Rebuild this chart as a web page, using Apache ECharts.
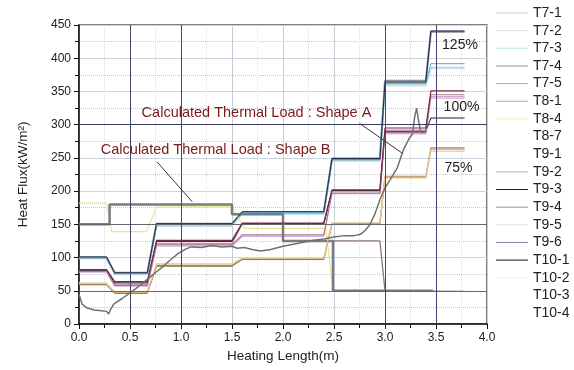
<!DOCTYPE html>
<html>
<head>
<meta charset="utf-8">
<script src="https://cdn.jsdelivr.net/npm/echarts/dist/echarts.min.js"></script>
<style>html,body{margin:0;padding:0;background:#fff}#c{width:574px;height:370px}</style>
</head>
<body>
<div id="c"></div>
<script>
// ---- data ----
const legendNames = ['T7-1','T7-2','T7-3','T7-4','T7-5','T8-1','T8-4','T8-7','T9-1','T9-2','T9-3','T9-4','T9-5','T9-6','T10-1','T10-2','T10-3','T10-4'];
const xTicks = [0, 0.5, 1.0, 1.5, 2.0, 2.5, 3.0, 3.5, 4.0];
const yTicks = [0, 50, 100, 150, 200, 250, 300, 350, 400, 450];

// shared breakpoints of the stepped thermocouple traces
const stepX = [0, 0.27, 0.35, 0.67, 0.76, 1.5, 1.6, 2.4, 2.48, 2.95, 3.0, 3.4, 3.45, 3.78];
// levels per heating segment (7 segments)
const t7_1 = [59, 46, 87, 97, 151, 221, 263];
const t7_2 = [98, 74, 147, 165, 245, 358, 384];
const t7_3 = [99, 75, 148, 166, 246, 360, 386];
const t7_4 = [100, 77, 151, 168, 248, 366, 440];
const t7_5 = [100, 76, 150, 168, 250, 362, 392];
const t8_1 = [80, 60, 121, 150, 200, 292, 342];
const t9_1 = [60, 47, 88, 98, 151, 222, 265];
const t9_2 = [78, 57, 117, 132, 196, 286, 340];
const t9_3 = [81, 62, 124, 151, 201, 290, 310];
const t9_4 = [79, 58, 119, 134, 197, 288, 345];
const t9_5 = [62, 49, 91, 100, 153, 223, 262];
const t10_1 = [101, 77, 151, 169, 249, 364, 441];
const t10_2 = [61, 48, 90, 99, 152, 220, 260];
const t10_3 = [82, 64, 126, 152, 202, 295, 351];

// free-form traces
const t8_4x = [0, 0.27, 0.32, 0.66, 0.76, 1.5, 1.62, 2.42, 2.49, 3.4];
const t8_4y = [182, 182, 139, 139, 176, 177, 144, 144, 51, 50];
const t8_7x = [2.0, 2.95, 3.0, 3.78];
const t8_7y = [125, 125, 50, 49];
const shapeBx = [0, 0.3, 0.3, 1.5, 1.5, 2.0, 2.0, 2.49, 2.49, 3.47];
const shapeBy = [150, 150, 180, 180, 165, 165, 125, 125, 50, 50];
const shapeAx = [0, 0.03, 0.08, 0.15, 0.22, 0.27, 0.29, 0.31, 0.34, 0.42, 0.5, 0.58, 0.66, 0.74, 0.82, 0.9, 0.97, 1.05, 1.1, 1.2, 1.3, 1.4, 1.5, 1.55, 1.62, 1.7, 1.78, 1.88, 2.0, 2.1, 2.2, 2.3, 2.4, 2.5, 2.6, 2.7, 2.76, 2.8, 2.85, 2.9, 2.95, 3.0, 3.05, 3.12, 3.18, 3.24, 3.27, 3.29, 3.31, 3.33, 3.35, 3.37];
const shapeAy = [45, 30, 24, 21, 20, 19, 15, 22, 30, 38, 47, 56, 66, 76, 86, 97, 106, 113, 116, 115, 118, 116, 117, 114, 115, 112, 110, 112, 117, 120, 123, 126, 128, 131, 133, 133, 135, 140, 149, 165, 187, 205, 217, 235, 262, 280, 286, 311, 325, 305, 290, 287];

// reference lines
const refH = [50, 150, 300];
const refV = [0.5, 1.0, 3.0, 3.5];

// annotations
const annoText = ['Calculated Thermal Load : Shape A', 'Calculated Thermal Load : Shape B', '125%', '100%', '75%'];
const annoPos = [[1.74, 317.6], [1.34, 262], [3.735, 420], [3.75, 327], [3.72, 235]];
const arrowA = [[2.75, 302], [3.17, 257]];
const arrowB = [[0.765, 244], [1.11, 184]];

// ---- helpers ----
function steps(levels) {
  const out = [];
  for (let i = 0; i < levels.length; i++) {
    out.push([stepX[2 * i], levels[i]]);
    out.push([stepX[2 * i + 1], levels[i]]);
  }
  return out;
}
function zip(xs, ys) { return xs.map((x, i) => [x, ys[i]]); }

const F = 'Arial, "Liberation Sans", sans-serif';

// name, data, plot color, width, legend color
const defs = [
  ['T7-1', steps(t7_1), '#6c6c6c', 1, '#c6c8d2'],
  ['T7-2', steps(t7_2), '#d4e2dc', 1, '#d6e2dc'],
  ['T7-3', steps(t7_3), '#aad8e4', 1.5, '#bfe2e6'],
  ['T7-4', steps(t7_4), '#8a8a94', 2, '#8f8f99'],
  ['T7-5', steps(t7_5), '#6cbcd6', 1.2, '#7cc4d4'],
  ['T8-1', steps(t8_1), '#cc88c0', 1.2, '#c09ab4'],
  ['T8-4', zip(t8_4x, t8_4y), '#e6e68e', 1.2, '#eeeea8'],
  ['T8-7', zip(t8_7x, t8_7y), '#8a7484', 1.3, '#ffffff'],
  ['T9-1', steps(t9_1), '#b4844e', 1.3, '#ffffff'],
  ['T9-2', steps(t9_2), '#d4b2dc', 1.2, '#c4a8c8'],
  ['T9-3', steps(t9_3), '#222222', 1, '#1e1e1e'],
  ['T9-4', steps(t9_4), '#a87890', 1.2, '#b08494'],
  ['T9-5', steps(t9_5), '#e2eae0', 1, '#dde6de'],
  ['T9-6', zip(shapeBx, shapeBy), '#7a7a84', 2.5, '#7f869c'],
  ['T10-1', steps(t10_1), '#1a2a48', 1, '#111111'],
  ['T10-2', steps(t10_2), '#e6c688', 1.2, '#f0f0c0'],
  ['T10-3', steps(t10_3), '#7a2848', 1.2, '#ffffff'],
  ['T10-4', zip(shapeAx, shapeAy), '#707070', 1.5, '#ffffff']
];

const series = defs.map(d => ({
  name: d[0], type: 'line', data: d[1], symbol: 'none', showSymbol: false,
  lineStyle: { color: d[2], width: d[3] }, itemStyle: { color: d[2] },
  animation: false, silent: true, z: 3
}));

// reference lines + annotations
series.push({
  name: 'ref', type: 'line', data: [], symbol: 'none', silent: true, animation: false, z: 2,
  markLine: {
    silent: true, symbol: 'none', animation: false,
    label: { show: false },
    data: refH.map(v => ({ yAxis: v, lineStyle: { color: v === 300 ? '#3c3c62' : '#66666e', width: 1, type: 'solid' } }))
      .concat(refV.map(v => ({ xAxis: v, lineStyle: { color: '#44446e', width: 1, type: 'solid' } })))
  }
});
series.push({
  name: 'anno', type: 'line', data: [], symbol: 'none', silent: true, animation: false, z: 5,
  markLine: {
    silent: true, symbol: ['none', 'arrow'], symbolSize: [0, 8], animation: false,
    label: { show: false },
    lineStyle: { color: '#333', width: 1, type: 'solid' },
    data: [
      [{ coord: arrowA[0] }, { coord: arrowA[1] }],
      [{ coord: arrowB[0] }, { coord: arrowB[1] }]
    ]
  },
  markPoint: {
    silent: true, animation: false, symbol: 'circle', symbolSize: 0,
    data: annoText.map((t, i) => ({
      coord: annoPos[i], value: 0,
      label: {
        show: true, position: 'inside', formatter: t, fontFamily: F,
        fontSize: i < 2 ? 14.5 : 14, color: i < 2 ? '#7b1a1a' : '#222'
      }
    }))
  }
});

const chart = echarts.init(document.getElementById('c'), null, { renderer: 'canvas' });
chart.setOption({
  animation: false,
  backgroundColor: '#fff',
  grid: { left: 79, top: 25, width: 408, height: 299, show: true, borderColor: '#555', borderWidth: 1.5, backgroundColor: 'transparent' },
  legend: {
    orient: 'vertical', left: 491, top: 1, itemWidth: 32, itemHeight: 14, itemGap: 3.65,
    symbolKeepAspect: true,
    itemStyle: { borderWidth: 0 },
    textStyle: { fontFamily: F, fontSize: 14, color: '#222' },
    data: defs.map(d => ({
      name: d[0], icon: 'path://M0,0H32V1H0Z',
      itemStyle: { color: d[4], borderColor: d[4], borderWidth: 0 },
      lineStyle: { color: d[4], width: 0.3 }
    })),
    selectedMode: false
  },
  xAxis: {
    type: 'value', min: 0, max: 4, interval: 0.5,
    name: 'Heating Length(m)', nameLocation: 'middle', nameGap: 24,
    nameTextStyle: { fontFamily: F, fontSize: 13.5, color: '#222' },
    axisLine: { show: true, onZero: false, lineStyle: { color: '#111', width: 1.5 } },
    axisTick: { show: true, length: 5, inside: false, lineStyle: { color: '#111' } },
    minorTick: { show: true, splitNumber: 2, length: 4, lineStyle: { color: '#111' } },
    axisLabel: { fontFamily: F, fontSize: 12, color: '#222', margin: 8, formatter: v => v.toFixed(1) },
    splitLine: { show: true, lineStyle: { color: '#c4ccd8', width: 1 } },
    minorSplitLine: { show: true, lineStyle: { color: '#d4e4dc', type: 'dotted', width: 1 } }
  },
  yAxis: {
    type: 'value', min: 0, max: 450, interval: 50,
    name: 'Heat Flux(kW/m²)', nameLocation: 'middle', nameGap: 49,
    nameTextStyle: { fontFamily: F, fontSize: 13.5, color: '#222' },
    axisLine: { show: true, onZero: false, lineStyle: { color: '#111', width: 1.5 } },
    axisTick: { show: true, length: 5, inside: false, lineStyle: { color: '#111' } },
    minorTick: { show: true, splitNumber: 2, length: 4, lineStyle: { color: '#111' } },
    axisLabel: { fontFamily: F, fontSize: 12, color: '#222', margin: 8 },
    splitLine: { show: true, lineStyle: { color: '#cdd4e0', width: 1 } },
    minorSplitLine: { show: true, lineStyle: { color: '#c6c6c6', type: 'dotted', width: 1 } }
  },
  series: series
});
</script>
</body>
</html>
